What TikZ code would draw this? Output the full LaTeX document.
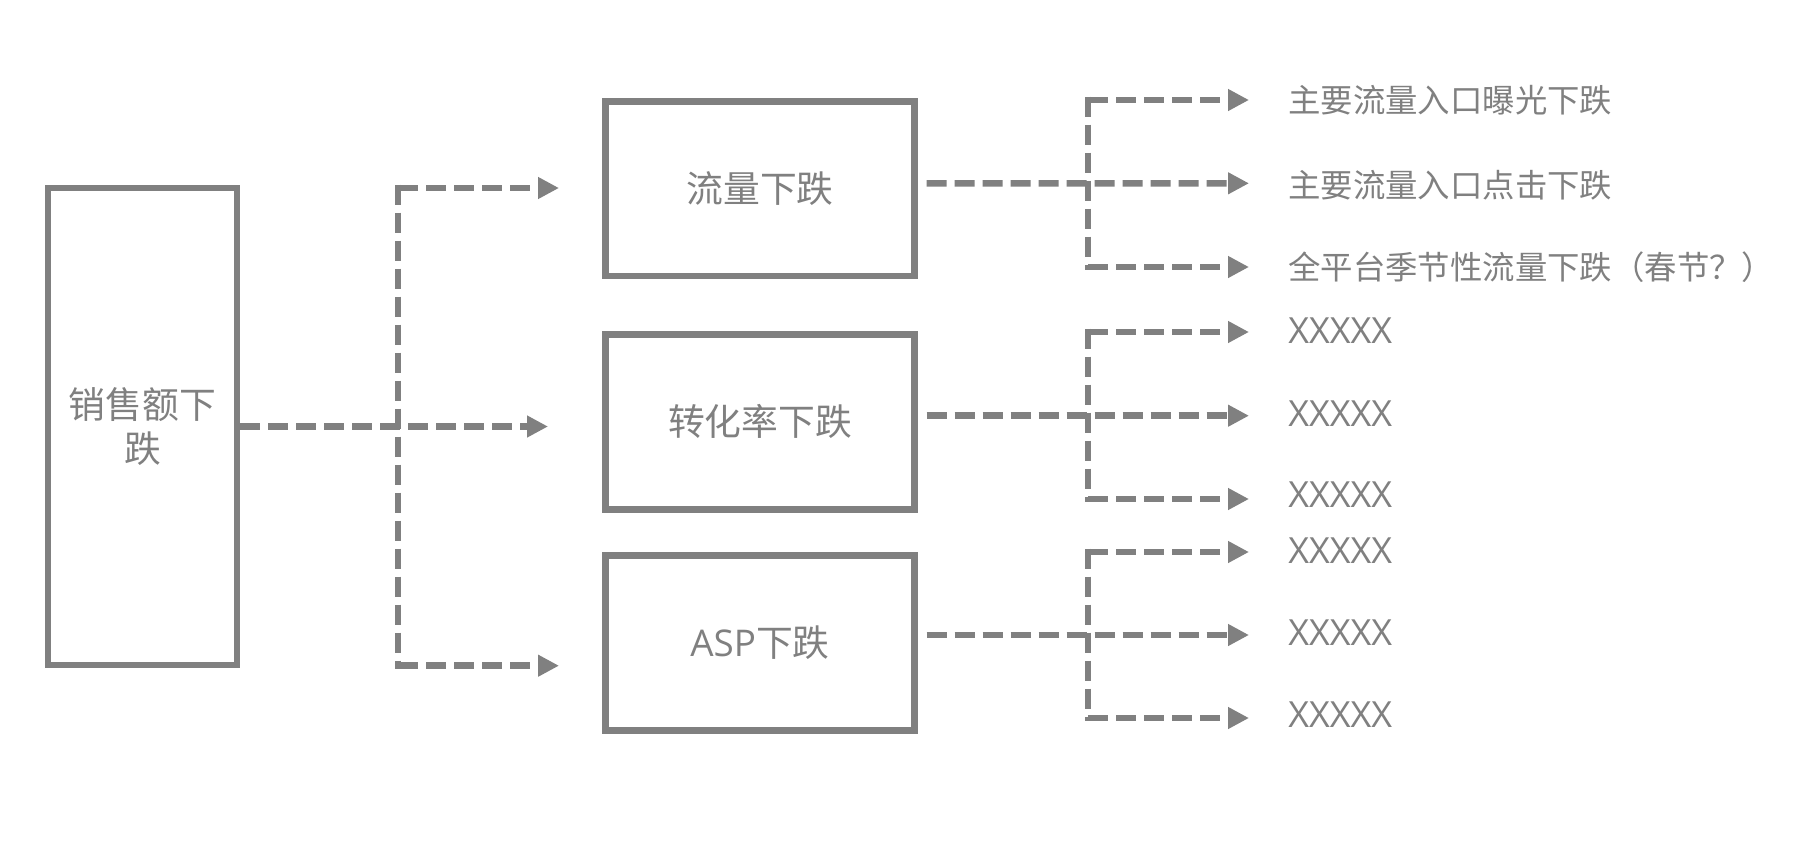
\documentclass[tikz,border=0pt]{standalone}
\usepackage{fontspec}
\setmainfont{Noto Sans CJK SC}
\newfontfamily\latinf{Open Sans}
\usetikzlibrary{arrows.meta}
\definecolor{lc}{RGB}{128,128,128}
\tikzset{
  box/.style={draw=lc, line width=5pt, text=lc, inner sep=0pt, align=center,
    font=\fontsize{27.6}{33}\selectfont},
  midbox/.style={box, minimum width=231.45pt, minimum height=130.9pt},
  dl/.style={draw=lc, line width=4.9pt, dash pattern=on 15pt off 6pt,
    -{Triangle[length=15.75pt,width=15.5pt]}},
  vl/.style={draw=lc, line width=4.9pt, dash pattern=on 15pt off 6pt,
    shorten <=-2.5pt, shorten >=-2.5pt},
  lab/.style={anchor=west, inner sep=0pt, text=lc, font=\fontsize{24.3}{29}\selectfont},
  xlab/.style={anchor=west, inner sep=0pt, text=lc, font=\latinf\fontsize{27}{32}\selectfont}
}
\begin{document}
\begin{tikzpicture}[x=0.75pt, y=-0.75pt]
\fill[white] (0,0) rectangle (1814,865);
\useasboundingbox (0,0) rectangle (1814,865);

% root box
\node[box, minimum width=141.75pt, minimum height=357.75pt] (L) at (142.5,426.5) {销售额下\\跌};

% second level boxes
\node[midbox] (B1) at (760,188.6) {流量下跌};
\node[midbox] (B2) at (760,421.9) {转化率下跌};
\node[midbox] (B3) at (760,643) {{\latinf ASP}下跌};

% first fork
\coordinate (va) at (398,188);
\coordinate (vb) at (398,665.7);
\coordinate (ta) at (559,188);
\coordinate (tm) at (548,426.5);
\coordinate (tb) at (559,665.7);
\draw[dl] (L.east) -- (tm);
\draw[vl] (va) -- (vb);
\draw[dl] (va) -- (ta);
\draw[dl] (vb) -- (tb);

% fork from B1
\coordinate (a1) at (1088,100);
\coordinate (b1) at (1088,267);
\coordinate (ta1) at (1249,100);
\coordinate (tm1) at (1249,183.3);
\coordinate (tb1) at (1249,267);
\draw[dl] ([shift={(9,-5.3)}]B1.east) -- (tm1);
\draw[vl] (a1) -- (b1);
\draw[dl] (a1) -- (ta1);
\draw[dl] (b1) -- (tb1);
\node[lab] (l11) at (1288,100) {主要流量入口曝光下跌};
\node[lab] (l12) at (1288,185) {主要流量入口点击下跌};
\node[lab] (l13) at (1288,267) {全平台季节性流量下跌（春节？）};

% fork from B2
\coordinate (a2) at (1088,332);
\coordinate (b2) at (1088,499);
\coordinate (ta2) at (1249,332);
\coordinate (tm2) at (1249,415.7);
\coordinate (tb2) at (1249,499);
\draw[dl] ([shift={(9,-6.2)}]B2.east) -- (tm2);
\draw[vl] (a2) -- (b2);
\draw[dl] (a2) -- (ta2);
\draw[dl] (b2) -- (tb2);
\node[xlab] (l21) at (1288,331) {XXXXX};
\node[xlab] (l22) at (1288,414) {XXXXX};
\node[xlab] (l23) at (1288,495) {XXXXX};

% fork from B3
\coordinate (a3) at (1088,552);
\coordinate (b3) at (1088,718);
\coordinate (ta3) at (1249,552);
\coordinate (tm3) at (1249,635);
\coordinate (tb3) at (1249,718);
\draw[dl] ([shift={(9,-8)}]B3.east) -- (tm3);
\draw[vl] (a3) -- (b3);
\draw[dl] (a3) -- (ta3);
\draw[dl] (b3) -- (tb3);
\node[xlab] (l31) at (1288,551) {XXXXX};
\node[xlab] (l32) at (1288,633) {XXXXX};
\node[xlab] (l33) at (1288,715) {XXXXX};
\end{tikzpicture}
\end{document}
